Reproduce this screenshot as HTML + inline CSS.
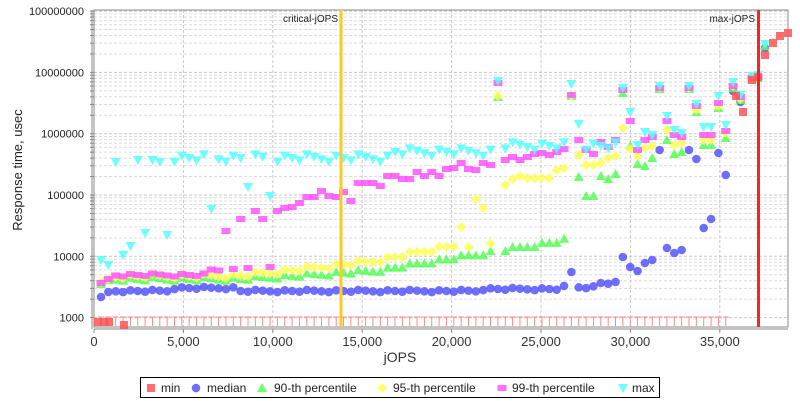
<!DOCTYPE html>
<html><head><meta charset="utf-8"><style>
body{margin:0;background:#fff;font-family:"Liberation Sans",sans-serif}
</style></head><body>
<svg id="s" width="800" height="400" xmlns="http://www.w3.org/2000/svg" font-family="Liberation Sans, sans-serif"></svg>
<script>
const s=document.getElementById('s');let h='';
const L=94,R=788,T=10,B=327;
const Y=v=>317.6-61.3*(Math.log10(v)-3);
const X=j=>94+j*0.01788;
h+=`<rect x="0" y="0" width="800" height="400" fill="#fff"/>`;
for(let d=3;d<=8;d++){for(let m=1;m<10;m++){const v=m*Math.pow(10,d);const y=Y(v);if(y<T||y>B)continue;
h+=`<line x1="${L}" x2="${R}" y1="${y}" y2="${y}" stroke="${m==1?'#c8c8c8':'#dcdcdc'}" stroke-dasharray="3,2" stroke-width="1"/>`;
h+=`<line x1="${L-4}" x2="${L}" y1="${y}" y2="${y}" stroke="#888"/>`;
if(m==1)h+=`<text x="84" y="${y+4}" font-size="11" text-anchor="end" fill="#222">${v}</text>`;}}
for(let j=0;j<=35000;j+=5000){const x=X(j);
if(j>0)h+=`<line x1="${x}" x2="${x}" y1="${T}" y2="${B}" stroke="#c8c8c8" stroke-dasharray="3,2"/>`;
h+=`<line x1="${x}" x2="${x}" y1="${B+2}" y2="${B+6}" stroke="#888"/>`;
h+=`<text x="${x}" y="346" font-size="13" text-anchor="middle" fill="#333">${j.toLocaleString('en-US')}</text>`;}
h+=`<line x1="${L}" y1="${B+2}" x2="${R}" y2="${B+2}" stroke="#888"/>`;
h+=`<line x1="${L-2}" y1="${T}" x2="${L-2}" y2="${B+2}" stroke="#888"/>`;
h+=`<rect x="${L}" y="${T}" width="${R-L}" height="${B-T}" fill="none" stroke="#888"/>`;
h+=`<text x="400" y="362" font-size="14" text-anchor="middle" fill="#333">jOPS</text>`;
h+=`<text transform="translate(22,170) rotate(-90)" font-size="13" text-anchor="middle" fill="#222">Response time, usec</text>`;
for(let x=101;x<=730;x+=7.35){h+=`<line x1="${x}" x2="${x}" y1="317" y2="326" stroke="#f88"/><line x1="${x-3}" x2="${x+3}" y1="317" y2="317" stroke="#f88"/>`;}
const mk={
r:(x,y)=>`<rect x="${x-4}" y="${y-4}" width="8" height="8" fill="#ff5555" opacity="0.85"/>`,
b:(x,y)=>`<circle cx="${x}" cy="${y}" r="4.3" fill="#5555ff" opacity="0.85"/>`,
g:(x,y)=>`<polygon points="${x},${y-5} ${x+5},${y+4} ${x-5},${y+4}" fill="#55ff55" opacity="0.85"/>`,
y:(x,y)=>`<polygon points="${x},${y-5} ${x+5},${y} ${x},${y+5} ${x-5},${y}" fill="#ffff55" opacity="0.85"/>`,
m:(x,y)=>`<rect x="${x-4.5}" y="${y-3}" width="9" height="6" fill="#ff55ff" opacity="0.85"/>`,
c:(x,y)=>`<polygon points="${x-5},${y-4} ${x+5},${y-4} ${x},${y+5}" fill="#55ffff" opacity="0.85"/>`};
const pts={r:[],b:[],g:[],y:[],m:[],c:[]};
const xs=[];for(let x=101;x<=744;x+=7.35)xs.push(x);
function near(arr,x){for(const p of arr)if(Math.abs(p[0]-x)<3.7)return p[1];return null;}
const cO=[[101,260],[108,265],[116,162],[123,255],[131,246],[138,160],[146,233],[153,160],[161,162],[167,235],[212,209],[249,187],[272,196],[500,81],[573,84],[581,124],[625,88],[632,112],[640,145],[647,132],[655,135],[662,86],[670,116],[677,130],[684,133],[692,86],[699,104],[707,127],[714,127],[721,96],[728,125],[736,82],[743,95]];
const mO=[[101,283],[108,279],[227,231],[234,269],[242,219],[249,268],[257,211],[263,219],[272,267],[278,211],[286,208],[293,207],[301,203],[308,197],[316,197],[323,191],[330,196],[337,197],[345,192],[352,201],[360,183],[367,183],[375,183],[382,186],[389,176],[397,176],[403,179],[410,179],[417,172],[423,176],[433,172],[440,176],[447,169],[453,168],[460,163],[467,169],[474,170],[483,163],[491,165],[500,83],[507,160],[513,157],[520,160],[527,157],[534,154],[541,153],[548,155],[555,152],[561,149],[567,153],[573,95],[581,140],[588,150],[596,154],[603,142],[610,147],[618,140],[625,90],[632,121],[640,150],[647,140],[655,137],[662,88],[670,121],[677,135],[684,137],[692,88],[699,106],[707,135],[714,135],[721,103],[728,131],[736,86],[743,97]];
const yO=[[101,282],[108,279],[463,227],[470,247],[477,199],[485,208],[500,96],[507,185],[514,179],[522,176],[530,178],[537,178],[544,178],[551,178],[558,170],[566,168],[573,96],[581,155],[588,165],[596,165],[603,163],[610,158],[618,156],[625,128],[632,149],[640,156],[647,148],[655,146],[662,88],[670,130],[677,145],[684,143],[692,88],[699,110],[707,140],[714,140],[721,106],[728,133],[736,86],[743,99]];
const gO=[[101,284],[108,280],[500,97],[573,96],[581,177],[588,196],[596,196],[603,176],[610,179],[618,174],[625,93],[632,146],[640,164],[647,166],[655,158],[662,89],[670,140],[677,154],[684,152],[692,89],[699,112],[707,145],[714,145],[721,108],[728,138],[736,88],[743,100]];
const bO=[[101,297],[108,292],[573,272],[625,257],[632,267],[640,271],[647,263],[655,260],[662,150],[670,248],[677,253],[684,250],[692,150],[699,159],[707,228],[714,219],[721,153],[728,175],[736,91],[743,102]];
xs.forEach((x,i)=>{
 const jit=((i*37)%7-3)*1.2;
 let c=near(cO,x); if(c==null) c=(x<390?158:(x<500?152:146))+jit; pts.c.push([x,c]);
 let m=near(mO,x); if(m==null) m=(x<210?275:270)+jit*0.4; pts.m.push([x,m]);
 let yy=near(yO,x); if(yy==null) yy=(x<240?276:x<380?276-(x-240)*0.11:x<460?260-(x-380)*0.2:245)+jit*0.6; pts.y.push([x,yy]);
 let g=near(gO,x); if(g==null) g=(x<240?279:x<380?279-(x-240)*0.06:x<570?270-(x-380)*0.16:240)+jit*0.5; pts.g.push([x,g]);
 let b=near(bO,x); if(b==null) b=(x<170?291:x<240?288:x<480?291:x<560?289:x<600?287:283)+jit*0.3; pts.b.push([x,b]);
});
// tail points
[[752,76],[758,75]].forEach(p=>{pts.c.push(p);pts.m.push([p[0],p[1]+2]);pts.y.push([p[0],p[1]+3]);pts.g.push([p[0],p[1]+3]);pts.b.push([p[0],p[1]+2]);});
pts.c.push([765,44]);pts.b.push([765,48]);pts.g.push([765,46]);
[[98,322],[104,322],[109,322],[124,325],[736,96],[743,112],[752,80],[758,77],[765,55],[773,43],[780,36],[788,33]].forEach(p=>pts.r.push(p));
for(const k of ['b','g','y','m','c','r'])for(const p of pts[k])h+=mk[k](p[0],p[1]);
h+=`<line x1="341" x2="341" y1="${T}" y2="${B}" stroke="#ffc828" stroke-width="3"/>`;
h+=`<text x="338" y="22" font-size="10" text-anchor="end" fill="#222">critical-jOPS</text>`;
h+=`<line x1="758.5" x2="758.5" y1="${T}" y2="${B}" stroke="#ff2020" stroke-width="3"/>`;
h+=`<text x="755" y="22" font-size="10" text-anchor="end" fill="#222">max-jOPS</text>`;
h+=`<rect x="140.5" y="377.5" width="519" height="20" fill="#fff" stroke="#000"/>`;
const lg=[['r',151,'min',161],['b',196,'median',207],['g',262,'90-th percentile',274],['y',382,'95-th percentile',393],['m',502,'99-th percentile',512],['c',623,'max',632]];
for(const [k,x,t,tx] of lg){h+=mk[k](x,388);h+=`<text x="${tx}" y="392" font-size="12" fill="#222">${t}</text>`;}
s.innerHTML=h;
</script>
</body></html>
